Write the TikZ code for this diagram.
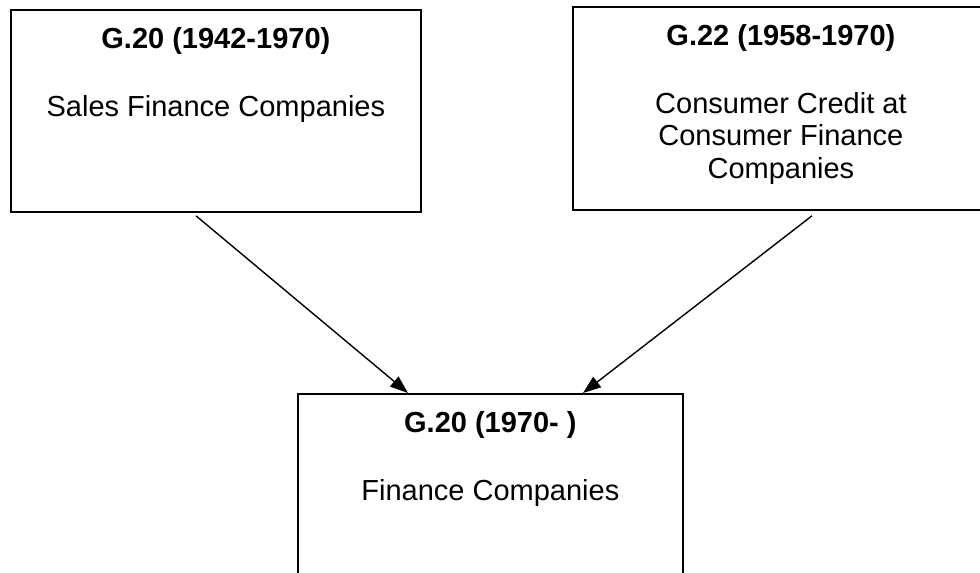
\documentclass[tikz,border=0pt]{standalone}
\usepackage{fontspec}
\setmainfont{Liberation Sans}
\usetikzlibrary{arrows.meta}
\begin{document}
\begin{tikzpicture}[x=1pt,y=-1pt,
  box/.style={draw=black, line width=1.8pt, rectangle, inner sep=0pt, anchor=north west},
  title/.style={anchor=base, inner sep=0pt, font=\fontsize{29}{33}\selectfont\bfseries},
  body/.style={anchor=north, inner sep=0pt, align=center, font=\fontsize{29}{32.5}\selectfont},
  link/.style={line width=1.4pt, -{Triangle[length=18pt,width=13pt]}}]
\clip (0,0) rectangle (980,573);
\fill[white] (0,0) rectangle (980,573);
% boxes
\node[box, minimum width=410pt, minimum height=202pt] (lb) at (10,9) {};
\node[box, minimum width=416pt, minimum height=203pt] (rb) at (572,6) {};
\node[box, minimum width=385pt, minimum height=200pt] (bb) at (297,393) {};
% texts
\node[title] (lt) at ([yshift=-39pt]lb.north) {G.20 (1942-1970)};
\node[body] (lx) at ([yshift=-86pt]lb.north) {Sales Finance Companies};
\node[title] (rt) at ([yshift=-39pt]rb.north) {G.22 (1958-1970)};
\node[body] (rx) at ([yshift=-86pt]rb.north) {Consumer Credit at\\Consumer Finance\\Companies};
\node[title] (bt) at ([yshift=-39pt]bb.north) {G.20 (1970- )};
\node[body] (bx) at ([yshift=-86pt]bb.north) {Finance Companies};
% connectors
\draw[link] ([shift={(186pt,-3pt)}]lb.south west) -- ([xshift=111pt]bb.north west);
\draw[link] ([shift={(240pt,-5pt)}]rb.south west) -- ([xshift=286pt]bb.north west);
\end{tikzpicture}
\end{document}
